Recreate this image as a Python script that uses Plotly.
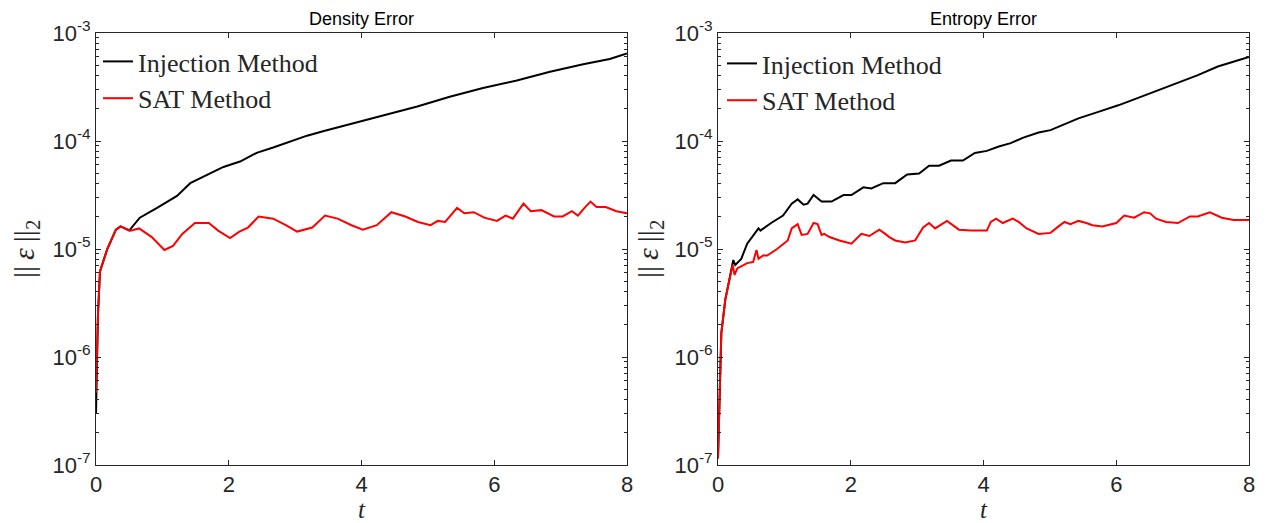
import plotly.graph_objects as go

# ---------------- data ----------------
density_t_inj = [0, 0.03, 0.06, 0.17, 0.3, 0.37, 0.5, 0.66, 0.92, 1.22, 1.42, 1.67, 1.92, 2.17, 2.42,
                 2.67, 2.92, 3.18, 3.42, 3.67, 3.93, 4.32, 4.84, 5.33, 5.83, 6.34, 6.84, 7.34, 7.74, 8.0]
density_inj = [3.0e-7, 2.5e-6, 6.2e-6, 1.0e-5, 1.51e-5, 1.62e-5, 1.48e-5, 1.95e-5, 2.4e-5, 3.1e-5,
               4.07e-5, 4.8e-5, 5.75e-5, 6.45e-5, 7.76e-5, 8.7e-5, 9.8e-5, 1.12e-4, 1.23e-4, 1.35e-4,
               1.48e-4, 1.70e-4, 2.09e-4, 2.57e-4, 3.09e-4, 3.63e-4, 4.37e-4, 5.13e-4, 5.75e-4, 6.46e-4]

density_t_sat = [0, 0.03, 0.06, 0.17, 0.3, 0.37, 0.52, 0.65, 0.84, 1.03, 1.16, 1.30, 1.49, 1.70, 1.84,
                 2.02, 2.16, 2.29, 2.45, 2.67, 2.86, 3.03, 3.26, 3.45, 3.64, 3.85, 4.02, 4.23, 4.45,
                 4.66, 4.85, 5.04, 5.15, 5.26, 5.44, 5.55, 5.69, 5.85, 6.04, 6.17, 6.28, 6.44, 6.55,
                 6.71, 6.90, 7.03, 7.17, 7.26, 7.36, 7.45, 7.54, 7.68, 7.84, 8.0]
density_sat = [4.7e-7, 2.5e-6, 6.2e-6, 1.0e-5, 1.51e-5, 1.62e-5, 1.48e-5, 1.55e-5, 1.29e-5, 9.8e-6,
               1.07e-5, 1.38e-5, 1.74e-5, 1.74e-5, 1.48e-5, 1.26e-5, 1.45e-5, 1.58e-5, 2.0e-5, 1.91e-5,
               1.66e-5, 1.45e-5, 1.58e-5, 2.04e-5, 1.91e-5, 1.66e-5, 1.51e-5, 1.66e-5, 2.19e-5, 2.0e-5,
               1.78e-5, 1.66e-5, 1.82e-5, 1.78e-5, 2.4e-5, 2.14e-5, 2.19e-5, 1.95e-5, 1.82e-5, 2.04e-5,
               1.91e-5, 2.63e-5, 2.24e-5, 2.29e-5, 2.0e-5, 2.0e-5, 2.24e-5, 2.04e-5, 2.4e-5, 2.75e-5,
               2.45e-5, 2.45e-5, 2.24e-5, 2.14e-5]

entropy_t_inj = [0, 0.05, 0.11, 0.17, 0.23, 0.26, 0.35, 0.44, 0.53, 0.61, 0.64, 0.80, 0.98, 1.11, 1.20,
                 1.29, 1.35, 1.44, 1.56, 1.71, 1.89, 2.01, 2.19, 2.31, 2.49, 2.67, 2.85, 3.03, 3.18,
                 3.33, 3.51, 3.69, 3.87, 4.05, 4.23, 4.41, 4.59, 4.83, 5.01, 5.19, 5.43, 5.73, 6.03,
                 6.33, 6.63, 6.93, 7.23, 7.53, 7.83, 8.0]
entropy_inj = [1.15e-7, 1.66e-6, 3.4e-6, 5.1e-6, 7.9e-6, 7.1e-6, 8.1e-6, 1.12e-5, 1.35e-5, 1.55e-5,
               1.48e-5, 1.74e-5, 2.04e-5, 2.63e-5, 2.88e-5, 2.57e-5, 2.63e-5, 3.16e-5, 2.75e-5, 2.75e-5,
               3.16e-5, 3.16e-5, 3.72e-5, 3.63e-5, 4.07e-5, 4.07e-5, 4.9e-5, 5.0e-5, 5.9e-5, 5.9e-5,
               6.6e-5, 6.6e-5, 7.76e-5, 8.1e-5, 8.9e-5, 9.55e-5, 1.07e-4, 1.20e-4, 1.26e-4, 1.41e-4,
               1.62e-4, 1.86e-4, 2.14e-4, 2.51e-4, 2.95e-4, 3.47e-4, 4.07e-4, 4.9e-4, 5.6e-4, 6.0e-4]

entropy_t_sat = [0, 0.05, 0.11, 0.19, 0.22, 0.25, 0.29, 0.44, 0.53, 0.58, 0.61, 0.68, 0.74, 0.89, 1.05,
                 1.11, 1.20, 1.26, 1.35, 1.44, 1.50, 1.56, 1.60, 1.68, 1.83, 2.01, 2.16, 2.28, 2.43,
                 2.52, 2.58, 2.67, 2.82, 2.97, 3.09, 3.18, 3.27, 3.45, 3.57, 3.63, 3.81, 4.05, 4.11,
                 4.19, 4.29, 4.44, 4.53, 4.65, 4.83, 5.01, 5.13, 5.22, 5.31, 5.43, 5.55, 5.64, 5.79,
                 6.00, 6.12, 6.27, 6.42, 6.51, 6.60, 6.75, 6.93, 7.11, 7.23, 7.41, 7.59, 7.77, 8.0]
entropy_sat = [1.15e-7, 1.66e-6, 3.4e-6, 5.9e-6, 7.1e-6, 5.75e-6, 6.6e-6, 7.4e-6, 7.6e-6, 9.8e-6,
               8.1e-6, 8.7e-6, 8.7e-6, 1.0e-5, 1.2e-5, 1.55e-5, 1.7e-5, 1.35e-5, 1.38e-5, 1.74e-5,
               1.7e-5, 1.35e-5, 1.38e-5, 1.29e-5, 1.2e-5, 1.12e-5, 1.38e-5, 1.32e-5, 1.51e-5, 1.38e-5,
               1.29e-5, 1.2e-5, 1.15e-5, 1.2e-5, 1.58e-5, 1.74e-5, 1.55e-5, 1.82e-5, 1.62e-5, 1.51e-5,
               1.48e-5, 1.48e-5, 1.78e-5, 1.91e-5, 1.74e-5, 1.91e-5, 1.78e-5, 1.55e-5, 1.38e-5, 1.41e-5,
               1.62e-5, 1.78e-5, 1.7e-5, 1.82e-5, 1.74e-5, 1.66e-5, 1.62e-5, 1.74e-5, 2.04e-5, 1.95e-5,
               2.19e-5, 2.14e-5, 1.91e-5, 1.78e-5, 1.74e-5, 2.0e-5, 2.0e-5, 2.19e-5, 1.95e-5, 1.86e-5,
               1.86e-5]

panel_titles = ["Density Error", "Entropy Error"]
series_names = ["Injection Method", "SAT Method"]
x_ticks = [0, 2, 4, 6, 8]
y_ticks = [1e-7, 1e-6, 1e-5, 1e-4, 1e-3]
y_tick_text = ["10<sup>-7</sup>", "10<sup>-6</sup>", "10<sup>-5</sup>", "10<sup>-4</sup>", "10<sup>-3</sup>"]
y_minor = [m * 10 ** e for e in range(-7, -3) for m in range(2, 10)]

# ---------------- figure ----------------
W, H = 1266, 523
AX = "#262626"
SANS = "Liberation Sans, Arial, sans-serif"
SERIF = "Liberation Serif, Times New Roman, serif"

fig = go.Figure()
panels = [
    (density_t_inj, density_inj, density_t_sat, density_sat, "x", "y", "legend"),
    (entropy_t_inj, entropy_inj, entropy_t_sat, entropy_sat, "x2", "y2", "legend2"),
]
for ti, yi, ts, ys, xa, ya, lg in panels:
    fig.add_trace(go.Scatter(x=ti, y=yi, mode="lines", name=series_names[0],
                             line=dict(color="black", width=2), xaxis=xa, yaxis=ya, legend=lg))
    fig.add_trace(go.Scatter(x=ts, y=ys, mode="lines", name=series_names[1],
                             line=dict(color="#ff0000", width=2), xaxis=xa, yaxis=ya, legend=lg))

x_domains = [[96 / W, 627 / W], [718 / W, 1249 / W]]
y_domain = [1 - 465 / H, 1 - 33 / H]

common_x = dict(range=[0, 8], tickvals=x_ticks, ticks="inside", ticklen=5, tickcolor=AX,
                showline=True, linecolor=AX, linewidth=1, mirror="ticks", showgrid=False,
                zeroline=False, automargin=False, tickfont=dict(family=SANS, size=22, color=AX))
common_y = dict(type="log", range=[-7, -3], tickvals=y_ticks, ticktext=y_tick_text,
                ticks="inside", ticklen=5, tickcolor=AX, showline=True, linecolor=AX, linewidth=1,
                mirror="allticks", showgrid=False, zeroline=False, automargin=False,
                tickfont=dict(family=SANS, size=22, color=AX),
                minor=dict(tickvals=y_minor, ticks="inside", ticklen=3, tickcolor=AX, showgrid=False))

legend_style = dict(xanchor="left", yanchor="top", bgcolor="rgba(0,0,0,0)",
                    font=dict(family=SERIF, size=26, color="#262626"),
                    itemwidth=30, tracegroupgap=0)
fig.update_layout(
    width=W, height=H, autosize=False,
    margin=dict(l=0, r=0, t=0, b=0, pad=0),
    paper_bgcolor="white", plot_bgcolor="white",
    xaxis=dict(domain=x_domains[0], anchor="y", **common_x),
    yaxis=dict(domain=y_domain, anchor="x", **common_y),
    xaxis2=dict(domain=x_domains[1], anchor="y2", **common_x),
    yaxis2=dict(domain=y_domain, anchor="x2", **common_y),
    legend=dict(x=98 / W, y=1 - 38 / H, **legend_style),
    legend2=dict(x=722 / W, y=1 - 40 / H, **legend_style),
    showlegend=True,
)

annotations = []
for i, title in enumerate(panel_titles):
    cx = (x_domains[i][0] + x_domains[i][1]) / 2
    annotations.append(dict(text=title, x=cx, y=1 - 19 / H, xref="paper", yref="paper",
                            xanchor="center", yanchor="middle", showarrow=False,
                            font=dict(family=SANS, size=18, color="black")))
    annotations.append(dict(text="<i>t</i>", x=cx, y=1 - 509 / H, xref="paper", yref="paper",
                            xanchor="center", yanchor="middle", showarrow=False,
                            font=dict(family=SERIF, size=25, color=AX)))
    lx = [26, 650][i]
    annotations.append(dict(text="||\u2009<i>ε</i>\u2009||<sub>2</sub>", x=lx / W, y=1 - 249 / H,
                            xref="paper", yref="paper", xanchor="center", yanchor="middle",
                            showarrow=False, textangle=-90,
                            font=dict(family=SERIF, size=30, color=AX)))
fig.update_layout(annotations=annotations)

fig.write_html("out.html")
